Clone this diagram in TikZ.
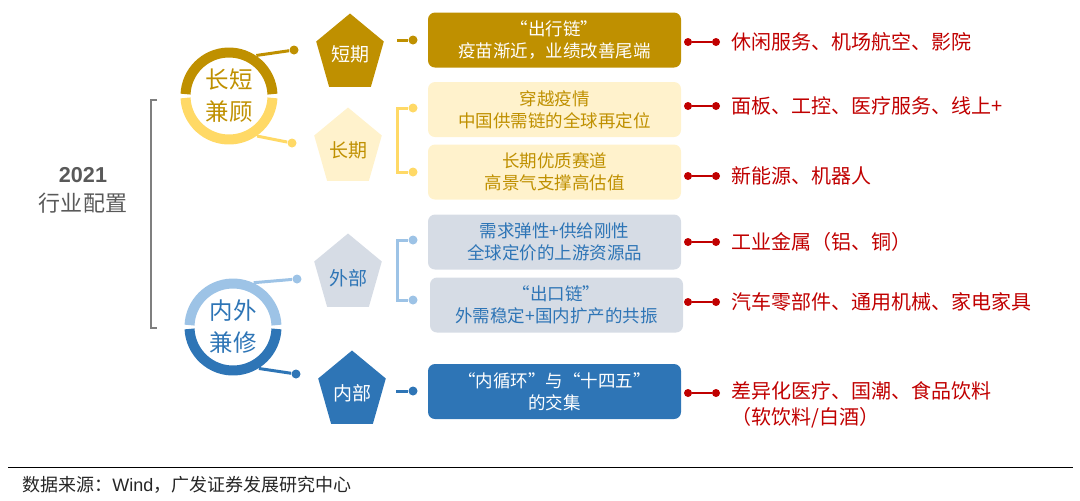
\documentclass[tikz,border=0pt]{standalone}
\usepackage{fontspec}
\setmainfont{Noto Sans CJK SC}
\newfontfamily\latinsans{Liberation Sans}
\usetikzlibrary{calc}

\definecolor{darkgold}{HTML}{BF9000}
\definecolor{lightgold}{HTML}{FFD966}
\definecolor{cream}{HTML}{FFF2CC}
\definecolor{lightblue}{HTML}{9DC3E6}
\definecolor{paleblue}{HTML}{D6DCE5}
\definecolor{midblue}{HTML}{2E75B6}
\definecolor{darkred}{HTML}{C00000}
\definecolor{midgray}{HTML}{7F7F7F}
\definecolor{textgray}{HTML}{595959}

\tikzset{
	box/.style={rounded corners=3.5pt, minimum width=126.5pt, minimum height=27.5pt,
		inner sep=0pt, align=center, font=\fontsize{8.75}{11}\selectfont},
	dot/.style={circle, fill, inner sep=0pt, minimum size=4.5pt},
	reddot/.style={circle, fill=darkred, inner sep=0pt, minimum size=4pt},
	redtxt/.style={anchor=west, inner sep=0pt, text=darkred, align=left,
		font=\fontsize{10}{13}\selectfont},
	ring/.style={circle, minimum size=48.5pt, inner sep=0pt, align=center,
		font=\fontsize{11.75}{16}\selectfont},
	pentxt/.style={inner sep=0pt, font=\fontsize{9.5}{11}\selectfont},
	link/.style={line width=1.5pt},
}

% pentagon around a centre: x, y, colour
\newcommand{\pentagon}[3]{%
	\fill[#3, shift={(#1,#2)}] (0,-40.5) -- (33.8,-12.5) -- (20.9,32.8) --
		(-20.9,32.8) -- (-33.8,-12.5) -- cycle;}

\begin{document}
\begin{tikzpicture}[x=0.5pt, y=-0.5pt]
	\useasboundingbox (0,0) rectangle (1080,500);

	% heading and bracket
	\node[text=textgray, font=\latinsans\bfseries\fontsize{10.8}{12}\selectfont] (year) at (83,175) {2021};
	\node[text=textgray, font=\fontsize{11}{12}\selectfont] (title) at (83,203) {行业配置};
	\coordinate (brTop) at (157,100);
	\coordinate (brBot) at (157,328);
	\draw[midgray, line width=1.25pt] (brTop) -- ++(-6,0) |- (brBot);

	% rings
	\node[ring, text=darkgold] (lc) at (229,96) {长短\\兼顾};
	\draw[darkgold, line width=5pt] ($(lc)+(2.5:21.75pt)$) arc[start angle=2.5, end angle=177.5, radius=21.75pt];
	\draw[lightgold, line width=5pt] ($(lc)+(182.5:21.75pt)$) arc[start angle=182.5, end angle=357.5, radius=21.75pt];
	\node[ring, text=midblue] (nw) at (233,327) {内外\\兼修};
	\draw[lightblue, line width=5pt] ($(nw)+(2.5:21.75pt)$) arc[start angle=2.5, end angle=177.5, radius=21.75pt];
	\draw[midblue, line width=5pt] ($(nw)+(182.5:21.75pt)$) arc[start angle=182.5, end angle=357.5, radius=21.75pt];

	\node[dot, darkgold] (lcU) at (294,50) {};
	\node[dot, lightgold] (lcL) at (292,143) {};
	\node[dot, lightblue] (nwU) at (297,279) {};
	\node[dot, midblue] (nwL) at (296,374) {};
	\draw[link, darkgold] (lc.56) -- (lcU);
	\draw[link, lightgold] (lc.-55) -- (lcL);
	\draw[link, lightblue] (nw.65) -- (nwU);
	\draw[link, midblue] (nw.-58) -- (nwL);

	% pentagons
	\pentagon{350}{54}{darkgold}
	\node[pentxt, white] (short) at (350,54) {短期};
	\pentagon{348}{148}{cream}
	\node[pentxt, text=darkgold] (long) at (348,150) {长期};
	\pentagon{348}{274}{paleblue}
	\node[pentxt, text=midblue] (ext) at (348,278) {外部};
	\pentagon{352}{391}{midblue}
	\node[pentxt, white] (int) at (352,393) {内部};

	% stubs and brackets to the boxes
	\coordinate (shortR) at (397,40);
	\node[dot, darkgold] (shortD) at (413,40) {};
	\draw[link, darkgold] (shortR) -- (shortD);
	\coordinate (longR) at (397,140);
	\node[dot, lightgold] (longA) at (413,108) {};
	\node[dot, lightgold] (longB) at (413,172) {};
	\draw[link, lightgold] (longA) -| (longR) |- (longB);
	\coordinate (extR) at (397,270);
	\node[dot, lightblue] (extA) at (413,240) {};
	\node[dot, lightblue] (extB) at (413,300) {};
	\draw[link, lightblue] (extA) -| (extR) |- (extB);
	\coordinate (intR) at (396,391);
	\node[dot, midblue] (intD) at (413,391) {};
	\draw[link, midblue] (intR) -- (intD);

	% boxes
	\node[box, fill=darkgold, text=white] (b1) at (554.5,40) {“出行链”\\疫苗渐近，业绩改善尾端};
	\node[box, fill=cream, text=darkgold] (b2) at (554.5,109.5) {穿越疫情\\中国供需链的全球再定位};
	\node[box, fill=cream, text=darkgold] (b3) at (554.5,172) {长期优质赛道\\高景气支撑高估值};
	\node[box, fill=paleblue, text=midblue] (b4) at (554.5,242) {需求弹性+供给刚性\\全球定价的上游资源品};
	\node[box, fill=paleblue, text=midblue] (b5) at (556.5,305) {“出口链”\\外需稳定+国内扩产的共振};
	\node[box, fill=midblue, text=white] (b6) at (554.5,391.5) {“内循环”与“十四五”\\的交集};

	% red links and sectors
	\node[reddot] (ra1) at (688,42) {}; \node[reddot] (rb1) at (716,42) {};
	\node[reddot] (ra2) at (688,106) {}; \node[reddot] (rb2) at (716,106) {};
	\node[reddot] (ra3) at (688,176) {}; \node[reddot] (rb3) at (716,176) {};
	\node[reddot] (ra4) at (688,242) {}; \node[reddot] (rb4) at (716,242) {};
	\node[reddot] (ra5) at (688,302) {}; \node[reddot] (rb5) at (716,302) {};
	\node[reddot] (ra6) at (688,393) {}; \node[reddot] (rb6) at (716,393) {};
	\draw[darkred, line width=1pt] (ra1) -- (rb1) (ra2) -- (rb2) (ra3) -- (rb3)
		(ra4) -- (rb4) (ra5) -- (rb5) (ra6) -- (rb6);

	\node[redtxt] (t1) at (731,42) {休闲服务、机场航空、影院};
	\node[redtxt] (t2) at (731,106) {面板、工控、医疗服务、线上+};
	\node[redtxt] (t3) at (731,176) {新能源、机器人};
	\node[redtxt] (t4) at (731,242) {工业金属（铝、铜）};
	\node[redtxt] (t5) at (731,302) {汽车零部件、通用机械、家电家具};
	\node[redtxt] (t6) at (731,405) {差异化医疗、国潮、食品饮料\\（软饮料/白酒）};

	% source line
	\coordinate (ruleL) at (8,467);
	\coordinate (ruleR) at (1073,467);
	\draw[black, line width=0.5pt] (ruleL) -- (ruleR);
	\node[anchor=west, inner sep=0pt, text=black!85, font=\fontsize{9}{10}\selectfont] (src) at (22,485)
		{数据来源：{\latinsans Wind}，广发证券发展研究中心};
\end{tikzpicture}
\end{document}
